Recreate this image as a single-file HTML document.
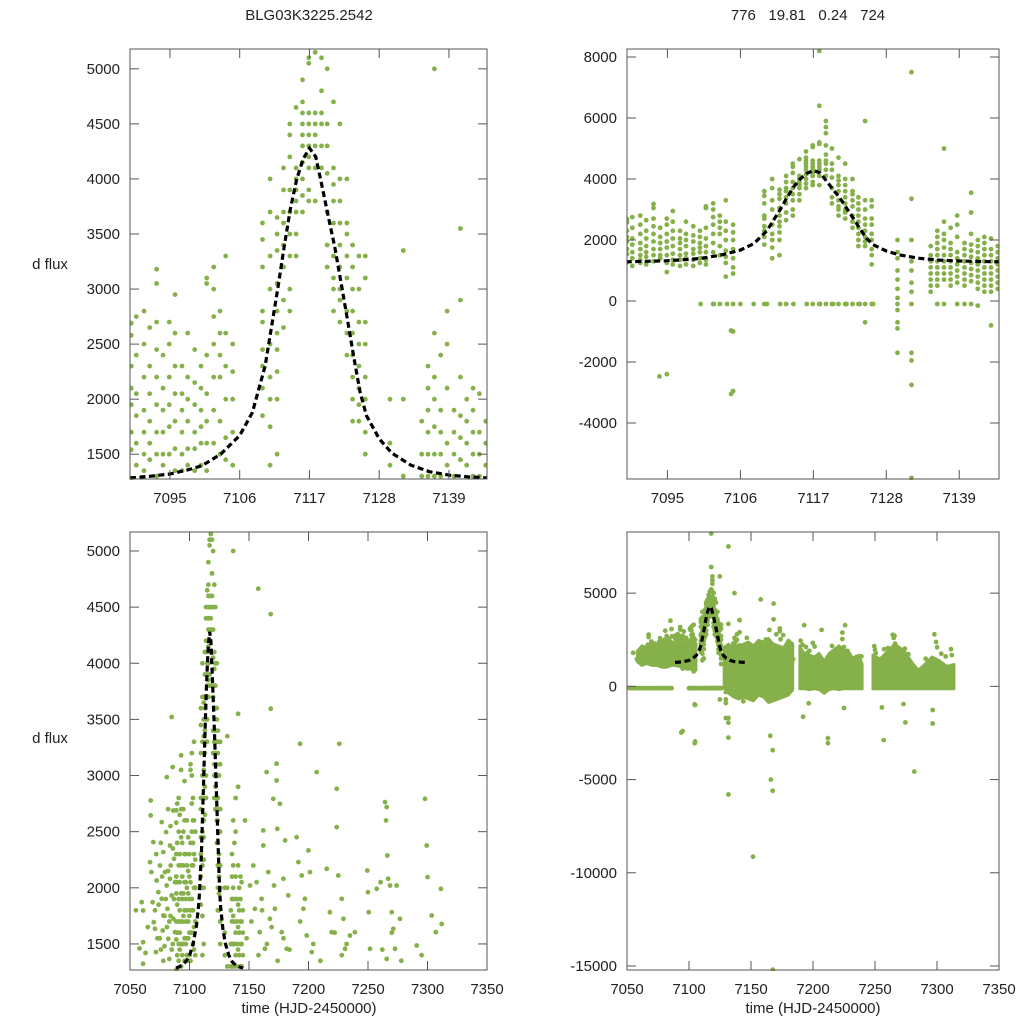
<!DOCTYPE html>
<html><head><meta charset="utf-8">
<style>
html,body{margin:0;padding:0;background:#fff;overflow:hidden;width:1024px;height:1024px;}
svg{display:block;font-family:"Liberation Sans",sans-serif;}
</style></head>
<body>
<svg id="chart" width="1024" height="1024" viewBox="0 0 1024 1024"></svg>
<script>
// ---- model curve ----
const curveT=[7088.7,7092,7095,7098,7100,7103,7106,7108,7110,7111,7112,7113,7114,7115,7116,7117,7118,7119,7120,7121,7122,7123,7124,7125,7126,7128,7130,7133,7136,7139,7142,7145];
const curveF=[1285,1300,1320,1360,1395,1500,1670,1880,2300,2650,3000,3380,3730,4000,4180,4280,4200,3930,3650,3380,3050,2720,2380,2060,1850,1640,1510,1400,1340,1310,1295,1285];
// ---- nightly observations near the event ----
const nightT=[7088.9,7089.7,7090.9,7091.8,7092.9,7093.9,7094.9,7095.8,7096.9,7097.8,7098.9,7099.9,7100.8,7101.9,7102.9,7103.8,7104.9,7109.6,7110.8,7111.9,7112.9,7113.9,7114.9,7115.9,7116.9,7117.9,7118.9,7119.8,7120.8,7121.8,7122.9,7123.8,7124.8,7125.8,7129.7,7131.8,7134.7,7135.7,7136.7,7137.7,7138.7,7139.8,7140.8,7141.8,7142.8,7143.8,7144.8];
const nightF=[
[2690,2300,1950,1700,1540,1270,2580,2100],
[2750,2400,2050,1850,1600,1150,1400],
[2500,2200,1900,1700,1500,1350,1250,2800],
[2650,2300,2050,1800,1600,1450,1200],
[3050,2700,2450,2200,1950,1700,1500,1300,3180],
[2400,2100,1900,1700,1500,1400],
[2700,2500,2200,1950,1750,1500,1250,950,-2400],
[2950,2600,2300,2050,1800,1550,1350,1200],
[2300,2050,1900,1700,1500,1350,1150],
[2600,2200,2000,1800,1550,1400,1200],
[2450,2150,1950,1700,1550,1350,1150],
[2300,2100,1900,1750,1600,1400,1250],
[3050,2400,2050,1800,1600,1350,1200,3100],
[3200,3000,2750,2500,2200,1900,1600,-100],
[2800,2600,2400,2200,1800,1500,-100],
[3300,2600,2300,2000,1650,1450,1250,800],
[2500,2250,2000,1700,1400,1100,900,-100,-1000,-2950],
[3600,3450,3200,2800,2700,2450,2300,2100,1850,-100],
[4000,3700,3300,3000,2500,2200,2000,1750,1400],
[3650,3500,3350,3050,2800,2600,2450,2250,2000,1500],
[4100,3900,3700,3600,3400,3200,2900,2650,-100],
[4500,4400,4200,3900,3700,3500,3300,3000,2800],
[4650,4100,4000,3900,3800,3700,3500,3300],
[4900,4700,4600,4500,4400,4300,4150,4000,3850,3700],
[5100,5050,4600,4500,4400,4300,4200,4100,3900,3800,-100],
[8200,6400,5200,5150,4600,4500,4400,4300,4100,3800,-100],
[5900,5700,5500,5100,4800,4600,4500,4300,4100,-100],
[5000,4500,4300,4050,3700,3400,3200,-100],
[4700,4100,3950,3800,3600,3300,3100,3000,2800,-100],
[4500,4000,3800,3600,3400,3200,3000,2900,2700,-100],
[4000,3600,3500,3300,3100,2800,2600,2400,-100],
[3400,3200,3000,2800,2600,2400,2200,2000,1800,-100],
[5900,3300,3000,2700,2500,2300,2100,1950,1800,-100,-700],
[3300,3100,2700,2500,2200,2000,1700,1500,1200,-100],
[2000,1600,1400,1000,700,400,100,-100,-300,-700,-900,-1700],
[7500,3350,2000,1300,1000,600,300,-100,-1700,-1950,-2750,-5800],
[1800,1500,1300,1100,900,700,500,300],
[2300,2100,1900,1700,1500,1300,1100,900,700,500,-100],
[5000,2600,2200,2000,1750,1500,1300,1100,900,700,-100],
[2400,1900,1700,1500,1300,1100,900,700,500],
[2800,2500,2100,1600,1400,1200,1000,800,600,-100],
[1900,1700,1500,1300,1100,900,700,500,-100],
[3550,2900,2200,1850,1650,1450,1250,1050,850,650,-100],
[2000,1800,1600,1400,1200,1000,800,600,400,-150],
[2100,1900,1700,1500,1300,1100,900,700,500,300],
[2050,1700,1500,1300,1100,900,700,500,300,-800],
[1800,1600,1400,1200,1000,800,600,400]];
// ---- other observations (full season) ----
const obsT=[7055,7058,7059.8,7061,7061,7061,7066.8,7067.4,7067.4,7068,7069.6,7069,7070,7071,7071.8,7072.4,7073.8,7075.2,7076.6,7076.6,7077.5,7078,7078,7079.4,7080.3,7080.8,7080.8,7081.4,7082.2,7083,7083.6,7084.2,7085,7085,7085.9,7086.4,7086.4,7087,7087.8,7087.8,7083.6,
7074,7075,7076,7079,7081,7082,7084,7085,7086,7077,7078,7080,7083,7084,7086,7082,7079,7076,7087,7073,7071,7065,7063,7072,
7093.8,7104.6,7104.6,
7146.6,7150.8,7153.6,7155,7156.4,7157.8,7159,7160.6,7162,7162,7163.4,7164.8,7166.2,7167.6,7168.2,7168.2,7170.4,7171,7171.8,7173.2,7173.2,7173.8,7176,7177.5,7178.9,7180.3,7181.7,7183,7190,7191.5,7192.9,7194.3,7195.7,7197,7198.5,7199.9,7201.3,7202.7,7206.9,7215.3,7218,7219.5,7223.7,7223.7,7225,7225.9,7227.9,7229.3,7230.7,7234.9,7239,7249.4,7250,7250.6,7251.7,7257.3,7260.6,7264.3,7265.7,7265.1,7266.2,7267,7268.5,7269.9,7271.3,7272.7,7274,7276.9,7290.9,7297.9,7299.3,7300.1,7303.5,7307,7311.3,7311.9,7265.7,
7148,7152,7158,7161,7165,7169,7174,7179,7184,7193,7204,7210,7222,7228,7232,7262,7270,7278,7295,
7151.6,7167.7,7166,7167.5,7167.5,7165.6,7212,7212,7257,7281.7,7274.5,7296.5,7296.5,7192,7196.5,7225,7255.6,7273,7104.6];
const obsF=[1800,1460,1872,1798,1516,1323,2229,2778,2645,2140,2407,1872,1694,1635,1427,2065,1961,2199,2585,1902,1620,2318,1753,2140,2496,2986,2021,1813,1546,1367,2377,2199,3521,1932,3075,2689,1724,2258,2050,1605,2080,
1850,1550,2400,1480,1650,2700,1750,1450,2350,2100,1350,1900,1700,2550,1500,2150,1750,1450,1900,1550,1800,1650,1420,2300,
-2473,-3047,-970,
2600,2021,2199,1813,2050,4664,1605,1902,2511,2377,1457,3031,2140,1724,4438,3595,2793,2021,1813,3105,2956,2526,2748,1605,2080,2422,1457,1932,2451,2229,3283,2110,1813,1902,1575,2333,2140,1427,3031,2169,1783,1605,2882,2541,2110,3283,1902,1724,1457,1575,1605,2154,1961,1783,1457,1991,2050,2763,2719,2600,2288,2080,2021,1783,1635,1457,2021,1724,1486,2793,2377,2095,1753,1605,1991,1679,1367,
1550,1700,1400,1800,1500,1650,1350,1550,1450,1700,1500,1350,1600,1400,1500,1450,1600,1350,1400,
-9140,-15200,-5000,-5600,-3422,-2650,-3047,-2780,-2884,-4570,-1935,-1990,-1270,-1631,-910,-1160,-1130,-950,-970];
// zero-flux (failed photometry) epochs
const zeroT=[7052,7054,7056,7058,7060,7062,7064,7066,7068,7070,7072,7074,7076,7078,7080,7082,7084,7086,7100,7102,7104,7106,7108,7110,7112,7114,7116,7118,7120,7122,7124,7126];
// dense-season envelopes (full light curve)
const bandT=[7058,7062,7066,7070,7074,7078,7082,7086,7090,7094,7098,7102,7106,
7128,7132,7136,7140,7144,7148,7152,7156,7160,7164,7168,7172,7176,7180,7184,
7189,7193,7197,7201,7205,7209,7213,7217,7221,7225,7229,7233,7237,7240,
7248,7254,7260,7266,7270,7274,7280,7285,7290,7296,7302,7308,7314];
const bandHi=[1900,2200,2100,2400,2300,2500,2400,2300,2200,2300,2100,2200,2300,
2100,2300,2000,2100,2300,2400,2200,2500,2400,2600,2300,2200,2100,2500,2300,
2200,1800,1700,1600,1800,1400,1800,2000,2200,2000,1800,1500,1700,1200,
1700,1500,1900,2300,2100,1900,1300,900,1200,1600,1400,1100,1200];
const bandLo=[1300,1100,1200,1100,1100,1000,1000,1100,1100,1000,900,900,1000,
-100,-400,-600,-700,-600,-700,-800,-500,-600,-900,-800,-700,-600,-500,-200,
-150,-150,-200,-150,-200,-400,-200,-150,-200,-150,-150,-150,-150,-150,
-150,-150,-150,-150,-150,-150,-150,-150,-150,-150,-150,-150,-150];
const bandGroup=[0,0,0,0,0,0,0,0,0,0,0,0,0,1,1,1,1,1,1,1,1,1,1,1,1,1,1,1,2,2,2,2,2,2,2,2,2,2,2,2,2,2,3,3,3,3,3,3,3,3,3,3,3,3,3];
// axis tick labels
const ticksTopX=[7095,7106,7117,7128,7139];
const ticksBotX=[7050,7100,7150,7200,7250,7300,7350];
const ticksTLY=[1500,2000,2500,3000,3500,4000,4500,5000];
const ticksTRY=[-4000,-2000,0,2000,4000,6000,8000];
const ticksBLY=[1500,2000,2500,3000,3500,4000,4500,5000];
const ticksBRY=[-15000,-10000,-5000,0,5000];

const NS='http://www.w3.org/2000/svg';
const svg=document.getElementById('chart');
const GREEN='#86b04a';
function mk(tag,attrs,parent){const e=document.createElementNS(NS,tag);for(const k in attrs)e.setAttribute(k,attrs[k]);(parent||svg).appendChild(e);return e;}

const panels=[
 {id:'top-left',x0:130,x1:487,y0:49,y1:479,tmin:7088.7,tmax:7145,fmin:1275,fmax:5180,xt:ticksTopX,yt:ticksTLY,band:false},
 {id:'top-right',x0:627,x1:999,y0:49,y1:479,tmin:7088.9,tmax:7145,fmin:-5836,fmax:8262,xt:ticksTopX,yt:ticksTRY,band:false},
 {id:'bottom-left',x0:130,x1:487,y0:532,y1:970,tmin:7050,tmax:7350,fmin:1268,fmax:5169,xt:ticksBotX,yt:ticksBLY,band:false},
 {id:'bottom-right',x0:627,x1:999,y0:532,y1:970,tmin:7050,tmax:7350,fmin:-15215,fmax:8280,xt:ticksBotX,yt:ticksBRY,band:true}
];
panels.forEach((p,pi)=>{
 const X=t=>p.x0+(t-p.tmin)/(p.tmax-p.tmin)*(p.x1-p.x0);
 const Y=f=>p.y1-(f-p.fmin)/(p.fmax-p.fmin)*(p.y1-p.y0);
 const g=mk('g',{});
 
 
 const cp=mk('clipPath',{id:'clip'+pi},g);
 mk('rect',{x:p.x0,y:p.y0-2,width:p.x1-p.x0,height:p.y1-p.y0+3},cp);
 const data=mk('g',{'clip-path':'url(#clip'+pi+')'},g);
 
 
 if(p.band){
  for(let gi=0;gi<4;gi++){
   const idx=bandGroup.map((v,i)=>v===gi?i:-1).filter(i=>i>=0);
   let pts=idx.map(i=>X(bandT[i]).toFixed(1)+','+Y(bandHi[i]).toFixed(1));
   pts=pts.concat(idx.slice().reverse().map(i=>X(bandT[i]).toFixed(1)+','+Y(bandLo[i]).toFixed(1)));
   const poly=mk('polygon',{points:pts.join(' '),fill:GREEN,stroke:GREEN,'stroke-width':2,'stroke-linejoin':'round'},data);
   
   
  }
 }
 const fspan=p.fmax-p.fmin, tspan=p.tmax-p.tmin;
 const dot=(t,f)=>{
  if(t<p.tmin-tspan*0.003||t>p.tmax+tspan*0.003)return;
  if(f<p.fmin-fspan*0.004||f>p.fmax+fspan*0.004)return;
  const c=mk('circle',{cx:X(t).toFixed(1),cy:Y(f).toFixed(1),r:2.4,fill:GREEN},data);
  
  
 };
 nightT.forEach((t,i)=>nightF[i].forEach(f=>dot(t,f)));
 obsT.forEach((t,i)=>dot(t,obsF[i]));
 zeroT.forEach(t=>dot(t,-100));
 const ct=[],cf=[];
 curveT.forEach((t,i)=>{if(curveF[i]>=p.fmin-50&&curveF[i]<=p.fmax){ct.push(t);cf.push(curveF[i]);}});
 const path=ct.map((t,i)=>(i?'L':'M')+X(t).toFixed(1)+','+Math.min(Y(cf[i]),p.y1).toFixed(1)).join('');
 const ln=mk('path',{d:path,fill:'none',stroke:'#000','stroke-width':3.2,'stroke-dasharray':'6,3.5'},data);
 
 
 const fr=mk('rect',{x:p.x0,y:p.y0,width:p.x1-p.x0,height:p.y1-p.y0,fill:'none',stroke:'#555','stroke-width':1},g);
 
 
 p.xt.forEach(v=>{
  const x=X(v);
  mk('line',{x1:x,x2:x,y1:p.y1,y2:p.y1-9,stroke:'#555'},g);
  mk('line',{x1:x,x2:x,y1:p.y0,y2:p.y0+9,stroke:'#555'},g);
  const tx=mk('text',{x:x,y:p.y1+24,'text-anchor':'middle','font-size':15,fill:'#222'},g);
  tx.textContent=v;
  
  
 });
 p.yt.forEach(v=>{
  const y=Y(v);
  mk('line',{x1:p.x0,x2:p.x0+9,y1:y,y2:y,stroke:'#555'},g);
  mk('line',{x1:p.x1,x2:p.x1-9,y1:y,y2:y,stroke:'#555'},g);
  const tx=mk('text',{x:p.x0-10,y:y+5,'text-anchor':'end','font-size':15,fill:'#222'},g);
  tx.textContent=v;
  
  
 });
});
function label(x,y,s,name){const t=mk('text',{x:x,y:y,'text-anchor':'middle','font-size':15,fill:'#222'});t.textContent=s;return t;}
label(309,20,'BLG03K3225.2542','left-title');
const t2=label(808,20,'776   19.81   0.24   724','right-title');t2.setAttribute('xml:space','preserve');t2.style.whiteSpace='pre';
label(50,269,'d flux','top-y-axis-title');
label(50,743,'d flux','bottom-y-axis-title');
label(309,1013,'time (HJD-2450000)','bottom-left-x-axis-title');
label(813,1013,'time (HJD-2450000)','bottom-right-x-axis-title');
</script>
</body></html>
